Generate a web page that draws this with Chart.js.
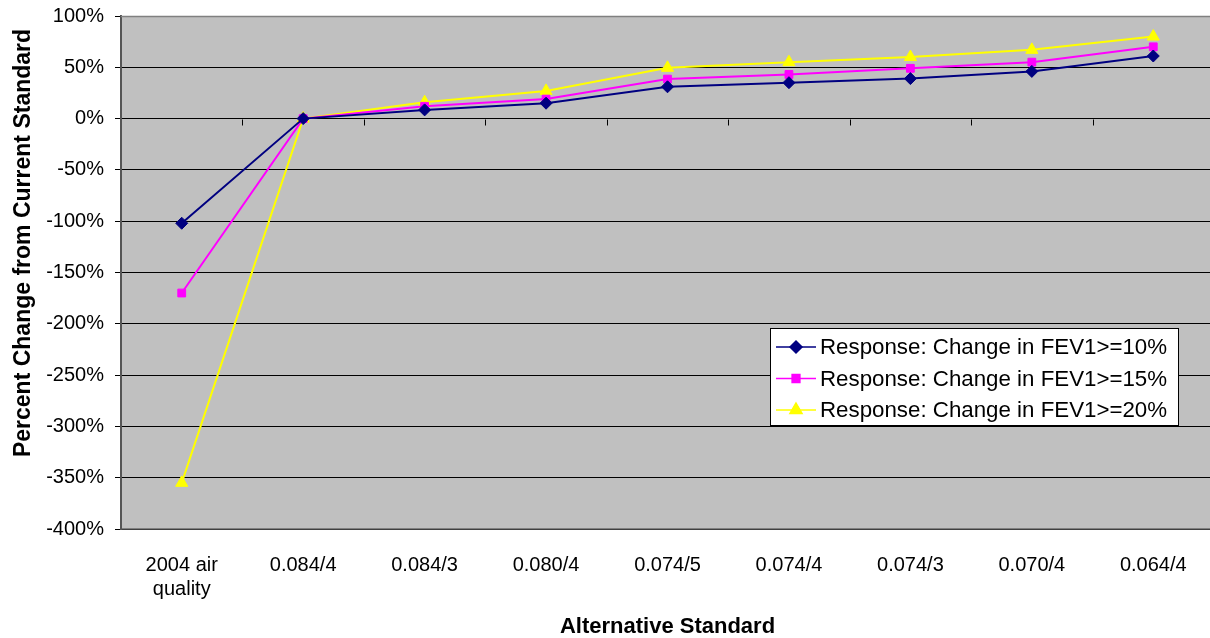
<!DOCTYPE html>
<html>
<head>
<meta charset="utf-8">
<script src="https://cdn.jsdelivr.net/npm/chart.js@4"></script>
<style>
  html, body { margin: 0; padding: 0; background: #fff; overflow: hidden; }
  #wrap { width: 1222px; height: 638px; }
</style>
</head>
<body>
<div id="wrap"><canvas id="c" width="1222" height="638"></canvas></div>
<script>
// Alternative ozone standards compared with the current one
const categories = [['2004 air', 'quality'], '0.084/4', '0.084/3', '0.080/4', '0.074/5', '0.074/4', '0.074/3', '0.070/4', '0.064/4'];
const fev10 = [-102, 0, 8.5, 15, 31, 35, 39, 46, 61];
const fev15 = [-170, 0, 12, 19, 38.5, 43, 49, 55, 70];
const fev20 = [-355, 0, 16, 27, 49.5, 55, 60, 67, 80];
const seriesNames = ['Response: Change in FEV1>=10%', 'Response: Change in FEV1>=15%', 'Response: Change in FEV1>=20%'];
const yTitle = 'Percent Change from Current Standard';
const xTitle = 'Alternative Standard';
const yMin = -400, yMax = 100, yStep = 50;

const FONT = "'Liberation Sans', Arial, sans-serif";

// Grey plot area, top border, category tick marks on the 0% line, y-axis title
const plotFrame = {
  id: 'plotFrame',
  beforeDraw(chart) {
    const { ctx, chartArea: a } = chart;
    ctx.save();
    ctx.fillStyle = '#C0C0C0';
    ctx.fillRect(a.left, a.top, a.right - a.left, a.bottom - a.top);
    ctx.restore();
  },
  beforeDatasetsDraw(chart) {
    const { ctx, chartArea: a, scales } = chart;
    const y = scales.y;
    ctx.save();
    ctx.strokeStyle = '#808080';
    ctx.lineWidth = 1.5;
    ctx.beginPath();
    ctx.moveTo(a.left, a.top + 0.5);
    ctx.lineTo(a.right, a.top + 0.5);
    ctx.stroke();
    // category tick marks on the zero line
    const y0 = Math.round(y.getPixelForValue(0)) + 0.5;
    const w = (a.right - a.left) / categories.length;
    ctx.strokeStyle = '#000';
    ctx.lineWidth = 1;
    ctx.beginPath();
    for (let i = 1; i < categories.length; i++) {
      const px = Math.round(a.left + i * w) + 0.5;
      ctx.moveTo(px, y0);
      ctx.lineTo(px, y0 + 6);
    }
    ctx.stroke();
    // rotated y-axis title
    ctx.translate(24, 243);
    ctx.rotate(-Math.PI / 2);
    ctx.fillStyle = '#000';
    ctx.font = "bold 23px " + FONT;
    ctx.textAlign = 'center';
    ctx.textBaseline = 'middle';
    ctx.fillText(yTitle, 0, 0);
    ctx.restore();
  }
};

// Legend box drawn inside the plot area
const insetLegend = {
  id: 'insetLegend',
  afterDatasetsDraw(chart) {
    const { ctx } = chart;
    const bx = 770, by = 328, bw = 408, bh = 97;
    ctx.save();
    ctx.fillStyle = '#fff';
    ctx.fillRect(bx, by, bw, bh);
    ctx.strokeStyle = '#000';
    ctx.lineWidth = 1;
    ctx.strokeRect(bx + 0.5, by + 0.5, bw, bh);
    chart.data.datasets.forEach((ds, i) => {
      const cy = by + 19 + i * 31.5;
      ctx.strokeStyle = ds.borderColor;
      ctx.lineWidth = 1.5;
      ctx.beginPath();
      ctx.moveTo(bx + 6, cy);
      ctx.lineTo(bx + 46, cy);
      ctx.stroke();
      Chart.helpers.drawPoint(ctx, {
        pointStyle: ds.pointStyle,
        radius: ds.pointRadius,
        borderWidth: 1
      }, bx + 26, cy);
      ctx.fillStyle = ds.pointBackgroundColor;
      ctx.strokeStyle = ds.pointBorderColor;
      ctx.fill();
      ctx.fillStyle = '#000';
      ctx.font = "22.3px " + FONT;
      ctx.textBaseline = 'middle';
      ctx.textAlign = 'left';
      ctx.fillText(ds.label, bx + 50, cy + 1);
    });
    ctx.restore();
  }
};

function series(label, data, color, style, radius) {
  return {
    label, data,
    borderColor: color,
    backgroundColor: color,
    borderWidth: 2,
    pointStyle: style,
    pointRadius: radius,
    pointHoverRadius: radius,
    pointBackgroundColor: color,
    pointBorderColor: color,
    pointBorderWidth: 1,
    tension: 0
  };
}

new Chart(document.getElementById('c'), {
  type: 'line',
  data: {
    labels: categories,
    datasets: [
      series(seriesNames[0], fev10, '#000080', 'rectRot', 6),
      series(seriesNames[1], fev15, '#FF00FF', 'rect', 5.5),
      series(seriesNames[2], fev20, '#FFFF00', 'triangle', 7)
    ]
  },
  options: {
    responsive: false,
    devicePixelRatio: 1,
    animation: false,
    layout: { padding: { top: 16, left: 0, right: 0, bottom: 0 } },
    plugins: { legend: { display: false }, tooltip: { enabled: false } },
    scales: {
      x: {
        type: 'category',
        offset: true,
        grid: { display: true, drawOnChartArea: false, drawTicks: false },
        border: { display: true, color: '#808080', width: 1.5 },
        ticks: { color: '#000', font: { family: FONT, size: 20 }, padding: 24, maxRotation: 0, autoSkip: false },
        title: {
          display: true, text: xTitle, color: '#000',
          font: { family: FONT, size: 22, weight: 'bold', lineHeight: 1 },
          padding: { top: 0, bottom: 0 }
        },
        afterFit(s) { s.height = 109; s.paddingLeft = 0; s.paddingRight = 0; }
      },
      y: {
        min: yMin, max: yMax,
        grid: { color: '#000', lineWidth: 1, tickLength: 6, tickColor: '#000' },
        border: { display: true, color: '#555', width: 2 },
        ticks: {
          stepSize: yStep, color: '#000', padding: 11,
          font: { family: FONT, size: 20 },
          callback: v => v + '%'
        },
        afterFit(s) { s.width = 121; s.paddingTop = 0; s.paddingBottom = 0; }
      }
    }
  },
  plugins: [plotFrame, insetLegend]
});
</script>
</body>
</html>
